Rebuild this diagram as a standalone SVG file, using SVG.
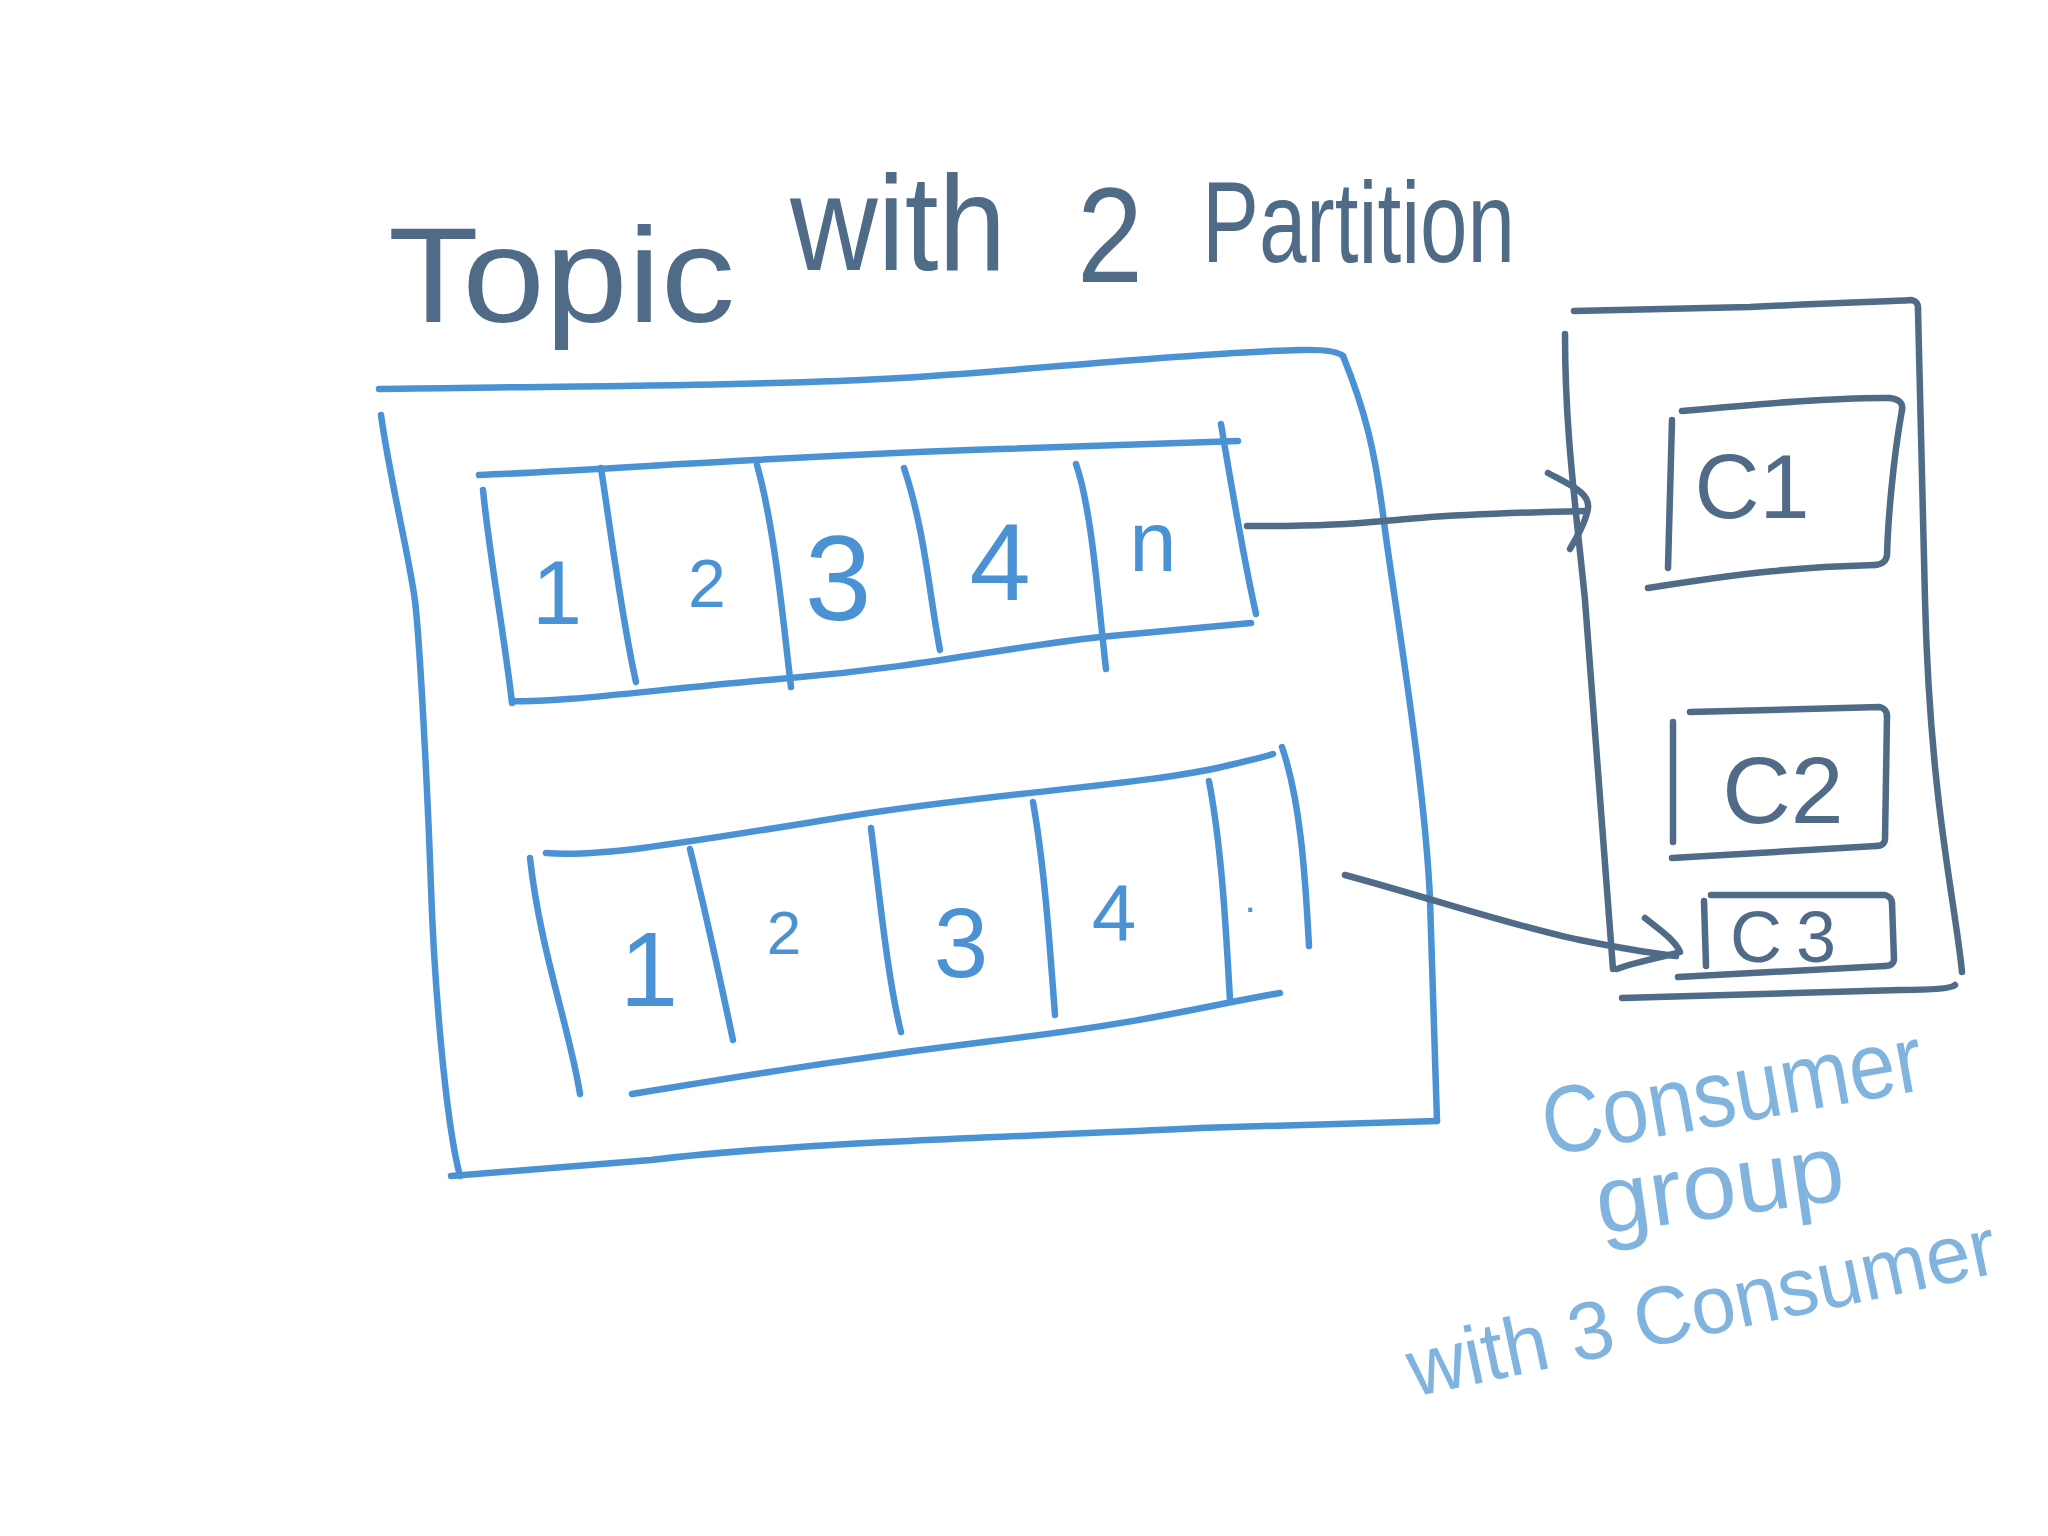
<svg xmlns="http://www.w3.org/2000/svg" width="2048" height="1536" viewBox="0 0 2048 1536">
<style>
.blue{fill:none;stroke:#4a92d4;stroke-width:6.5;stroke-linecap:round;stroke-linejoin:round}
.slate{fill:none;stroke:#4f6b87;stroke-width:6.5;stroke-linecap:round;stroke-linejoin:round}
.ttl{font-family:"Liberation Sans",Arial,sans-serif;fill:#4f6b87}
.num{font-family:"Liberation Sans",Arial,sans-serif;fill:#4a92d4;text-anchor:middle}
.cn{font-family:"Liberation Sans",Arial,sans-serif;fill:#4f6b87;text-anchor:middle}
.lbl{font-family:"Liberation Sans",Arial,sans-serif;fill:#80b4de}
</style>
<rect width="2048" height="1536" fill="#ffffff"/>
<g id="title">
<text class="ttl" font-size="135"><tspan x="388" y="322" textLength="347" lengthAdjust="spacingAndGlyphs">Topic</tspan> <tspan x="790" y="270" textLength="216" lengthAdjust="spacingAndGlyphs">with</tspan> <tspan x="1077" y="282" textLength="66" lengthAdjust="spacingAndGlyphs">2</tspan> <tspan x="1202" y="262" font-size="115" textLength="313" lengthAdjust="spacingAndGlyphs">Partition</tspan></text>
</g>
<g id="topic">
<path class="blue" d="M379,389 C600,386 780,385 900,378 S1200,352 1300,350 Q1335,349 1343,356"/>
<path class="blue" d="M1343,356 C1365,410 1375,450 1384,522 S1425,780 1430,900 L1437,1121"/>
<path class="blue" d="M1437,1121 L1200,1128 C1000,1138 800,1142 651,1160 L451,1176"/>
<path class="blue" d="M381,415 C390,480 410,560 415,601 S428,800 431,888 S445,1120 460,1176"/>
</g>
<g id="partition-0">
<path class="blue" d="M479,475 C600,470 800,455 1000,449 L1238,441"/>
<path class="blue" d="M483,490 C490,560 505,640 512,703"/>
<path class="blue" d="M512,701 C560,703 650,690 790,678 S1000,648 1100,637 L1251,623"/>
<path class="blue" d="M1221,424 C1232,490 1244,560 1256,614"/>
<path class="blue" d="M601,468 C612,540 622,620 636,682"/>
<path class="blue" d="M757,465 C775,530 783,620 791,687"/>
<path class="blue" d="M904,468 C925,530 930,600 940,650"/>
<path class="blue" d="M1076,464 C1092,510 1098,600 1106,669"/>
<text class="num" x="557" y="624" font-size="90">1</text>
<text class="num" x="707" y="607" font-size="68">2</text>
<text class="num" x="838" y="620" font-size="120">3</text>
<text class="num" x="1000" y="600" font-size="110">4</text>
<text class="num" x="1153" y="571" font-size="85">n</text>
</g>
<g id="partition-1">
<path class="blue" d="M546,853 C600,858 700,840 850,816 S1150,785 1230,765 Q1268,756 1273,754"/>
<path class="blue" d="M530,858 C540,950 570,1030 580,1094"/>
<path class="blue" d="M632,1094 C750,1075 850,1058 1000,1040 S1200,1007 1280,993"/>
<path class="blue" d="M1282,747 C1300,800 1305,870 1309,946"/>
<path class="blue" d="M690,849 C710,930 720,980 733,1040"/>
<path class="blue" d="M871,828 C880,900 888,980 901,1032"/>
<path class="blue" d="M1033,802 C1045,870 1050,950 1055,1015"/>
<path class="blue" d="M1209,781 C1222,850 1226,930 1230,1000"/>
<text class="num" x="649" y="1006" font-size="105">1</text>
<text class="num" x="784" y="954" font-size="62">2</text>
<text class="num" x="961" y="977" font-size="98">3</text>
<text class="num" x="1114" y="940" font-size="80">4</text>
<text class="num" x="1250" y="912" font-size="40">.</text>
</g>
<g id="consumer-group">
<path class="slate" d="M1574,311 L1750,307 C1850,302 1900,301 1912,300 Q1919,302 1918,310"/>
<path class="slate" d="M1918,310 L1925,600 C1930,800 1955,900 1962,972"/>
<path class="slate" d="M1955,985 Q1950,990 1900,990 L1622,998"/>
<path class="slate" d="M1565,334 C1565,430 1575,500 1585,600 L1613,969"/>
</g>
<g id="c1">
<path class="slate" d="M1682,411 C1760,404 1840,397 1890,398 Q1904,400 1902,410"/>
<path class="slate" d="M1902,410 C1893,460 1888,520 1887,555 Q1886,564 1875,565"/>
<path class="slate" d="M1875,565 C1800,567 1750,572 1648,588"/>
<path class="slate" d="M1672,420 L1668,568"/>
<text class="cn" x="1752" y="518" font-size="90">C1</text>
</g>
<g id="c2">
<path class="slate" d="M1690,712 L1880,707 Q1887,709 1887,716"/>
<path class="slate" d="M1887,716 L1885,840 Q1884,846 1876,846"/>
<path class="slate" d="M1876,846 L1672,858"/>
<path class="slate" d="M1673,722 L1673,842"/>
<text class="cn" x="1783" y="823" font-size="95">C2</text>
</g>
<g id="c3">
<path class="slate" d="M1711,895 L1885,895 Q1892,897 1892,903"/>
<path class="slate" d="M1892,903 L1894,960 Q1893,966 1885,966"/>
<path class="slate" d="M1885,966 L1678,977"/>
<path class="slate" d="M1704,901 L1706,966"/>
<text class="cn" x="1790" y="962" font-size="72" letter-spacing="14">C3</text>
</g>
<g id="connectors">
<path class="slate" d="M1247,526 C1330,527 1370,522 1420,518 S1540,512 1585,511"/>
<path class="slate" d="M1548,473 C1570,485 1590,493 1588,508 S1575,540 1570,549"/>
<path class="slate" d="M1345,875 C1430,898 1520,928 1580,940 S1660,954 1676,956"/>
<path class="slate" d="M1645,918 C1660,930 1675,940 1680,952 C1660,958 1635,962 1617,969"/>
</g>
<g id="label">
<text class="lbl" font-size="95" transform="rotate(-10 1548 1156)"><tspan x="1548" y="1156" textLength="385" lengthAdjust="spacingAndGlyphs">Consumer</tspan></text>
<text class="lbl" font-size="95" transform="rotate(-8 1600 1234)"><tspan x="1600" y="1234" textLength="250" lengthAdjust="spacingAndGlyphs">group</tspan></text>
<text class="lbl" font-size="82" transform="rotate(-12 1414 1397)"><tspan x="1414" y="1397" textLength="600" lengthAdjust="spacingAndGlyphs">with 3 Consumer</tspan></text>
</g>
</svg>
